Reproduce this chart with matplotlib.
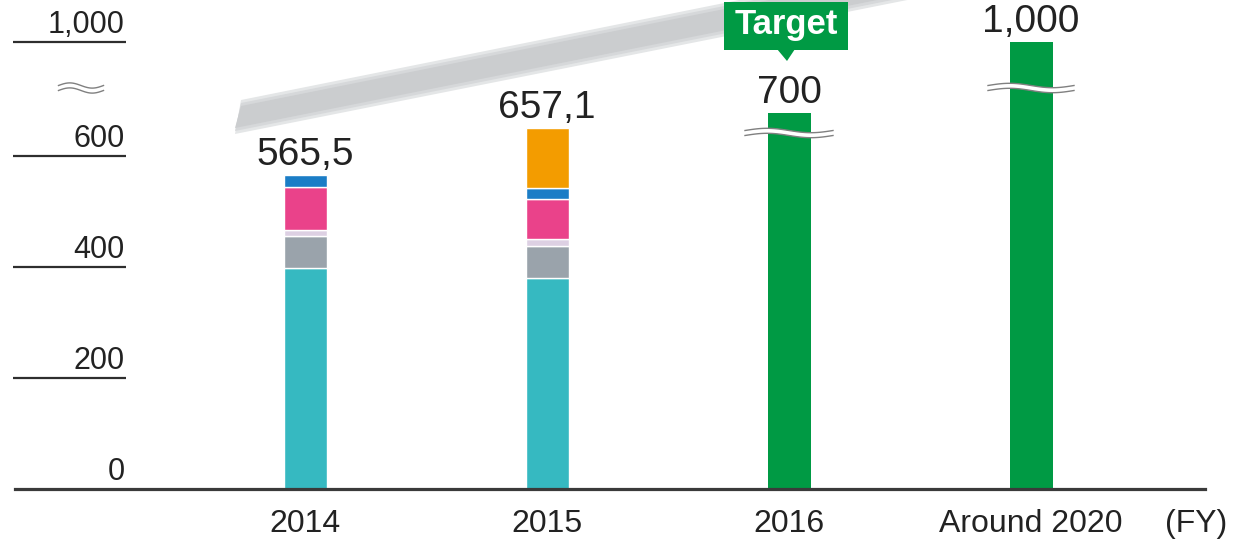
import numpy as np
import matplotlib
matplotlib.use('Agg')
import matplotlib.pyplot as plt
from matplotlib.patches import Polygon, Rectangle
from matplotlib.transforms import IdentityTransform

plt.rcParams['font.family'] = ['Liberation Sans', 'DejaVu Sans']

# ---------------- data ----------------
categories = ['2014', '2015', '2016', 'Around 2020']
teal = [397.6, 380.5, 0, 0]
gray = [58.3, 58.2, 0, 0]
lavender = [10.6, 10.9, 0, 0]
pink = [77.8, 72.8, 0, 0]
blue = [21.2, 20.0, 0, 0]
orange = [0, 114.7, 0, 0]
target = [0, 0, 700, 1000]
totals = [565.5, 657.1, 700, 1000]
total_labels = ['565,5', '657,1', '700', '1,000']
yticks = [0, 200, 400, 600, 1000]
ytick_labels = ['0', '200', '400', '600', '1,000']
unit_label = '(FY)'
target_label = 'Target'

# ---------------- figure ----------------
W, H = 1242, 542
PXU = 0.555  # pixels per scaled unit
fig = plt.figure(figsize=(W / 100, H / 100), dpi=100)
ax = fig.add_axes([0, 0, 1, 1])
ax.set_axis_off()

# broken (non-linear) value axis: compressed above the break
KV = np.array([-1000.0, 0.0, 640.0, 700.0, 1000.0, 3000.0])
KS = np.array([-1000.0, 0.0, 640.0, 677.0, 805.0, 1700.0])


def fwd(v):
    return np.interp(np.asarray(v, float), KV, KS)


def inv(u):
    return np.interp(np.asarray(u, float), KS, KV)


ax.set_yscale('function', functions=(fwd, inv))
ax.set_xlim(-305 / 242, (W - 305) / 242)
ax.set_ylim(float(inv(-53 / PXU)), float(inv(489 / PXU)))

x = np.arange(len(categories))
bw = 43 / 242

series = [(teal, '#36b9c1'), (gray, '#9aa3ab'), (lavender, '#ddd0e3'),
          (pink, '#ea428a'), (blue, '#1b7dc6'), (orange, '#f39c00')]
bottom = np.zeros(len(x))
for vals, col in series:
    vals = np.asarray(vals, float)
    m = vals > 0
    ax.bar(x[m], vals[m], bw, bottom=bottom[m], color=col,
           edgecolor='white', linewidth=1.0, zorder=3)
    bottom += vals
tg = np.asarray(target, float)
m = tg > 0
ax.bar(x[m], tg[m], bw, color='#009a44', linewidth=0, zorder=3)

# axis line
ax.axhline(0, xmin=15 / W, xmax=1205 / W, color='#3a3a3a', lw=2.3, zorder=5)

# y ticks (short lines with labels above them)
ytr = ax.get_yaxis_transform()
for t, lab in zip(yticks, ytick_labels):
    if t != 0:
        ax.plot([13 / W, 126 / W], [t, t], transform=ytr, color='#2e2e2e',
                lw=1.6, solid_capstyle='butt', zorder=5)
    ax.annotate(lab, (125 / W, t), xycoords=ytr, xytext=(0, 6.8),
                textcoords='offset points', ha='right', va='baseline',
                fontsize=22, color='#222222')

# value labels
for xi, tv, lab in zip(x, totals, total_labels):
    ax.annotate(lab, (xi, tv), xytext=(0, 7.5), textcoords='offset points',
                ha='center', va='baseline', fontsize=28, color='#222222',
                zorder=6)

# x labels
xtr = ax.get_xaxis_transform()
for xi, lab in zip(x, categories):
    ax.text(xi, 10 / H, lab, transform=xtr, ha='center', va='baseline',
            fontsize=23, color='#222222')
fig.text(1196 / W, 10 / H, unit_label, ha='center', va='baseline',
         fontsize=23, color='#222222')

ID = IdentityTransform()


def P(px, py):
    return (px, H - py)


# soft gray trend band (behind everything)
x0, y0, x1 = 238.0, 117.0, 1110.0
slope = -0.2
y1 = y0 + slope * (x1 - x0)
for half, col in [(17, '#e4e6e7'), (14, '#d6d8da'), (11, '#cbcdcf')]:
    band = Polygon([P(x0 + 3, y0 - half), P(x1, y1 - half),
                    P(x1, y1 + half), P(x0 - 3, y0 + half)],
                   closed=True, facecolor=col, edgecolor='none',
                   transform=ID, zorder=1)
    ax.add_patch(band)


def wave(cx, cy, w, amp, gap, zorder=7):
    t = np.linspace(0, 1, 80)
    xs = cx - w / 2 + w * t
    ys = amp * np.sin(2 * np.pi * t)
    top = np.column_stack([xs, cy + ys + gap / 2])
    bot = np.column_stack([xs, cy + ys - gap / 2])
    poly = np.vstack([top, bot[::-1]])
    ax.add_patch(Polygon(poly, closed=True, facecolor='white',
                         edgecolor='none', transform=ID, zorder=zorder))
    ax.plot(top[:, 0], top[:, 1], color='#808080', lw=1.0, transform=ID,
            zorder=zorder + 0.1)
    ax.plot(bot[:, 0], bot[:, 1], color='#808080', lw=1.0, transform=ID,
            zorder=zorder + 0.1)


fig.canvas.draw()
# breaks on the 2016 and 2020 bars
c16 = ax.transData.transform((x[2], float(inv((489 - 133) / PXU))))
wave(c16[0], c16[1], 88, 2.2, 5)
c20 = ax.transData.transform((x[3], float(inv((489 - 88) / PXU))))
wave(c20[0], c20[1], 86, 2.2, 5)
# break on y axis
wave(81, H - 88, 45, 2.6, 5)

# Target callout
cx = ax.transData.transform((x[2], 0))[0] - 3
ax.add_patch(Rectangle(P(cx - 62, 50), 124, 48, facecolor='#009a44',
                       edgecolor='none', transform=ID, zorder=8))
ax.add_patch(Polygon([P(cx - 9, 49), P(cx + 9, 49), P(cx + 1, 61)],
                     closed=True, facecolor='#009a44', edgecolor='none',
                     transform=ID, zorder=8))
ax.text(cx, H - 34, target_label, transform=ID, ha='center', va='baseline',
        fontsize=25, fontweight='bold', color='white', zorder=9)

fig.savefig('out.png', dpi=100)
